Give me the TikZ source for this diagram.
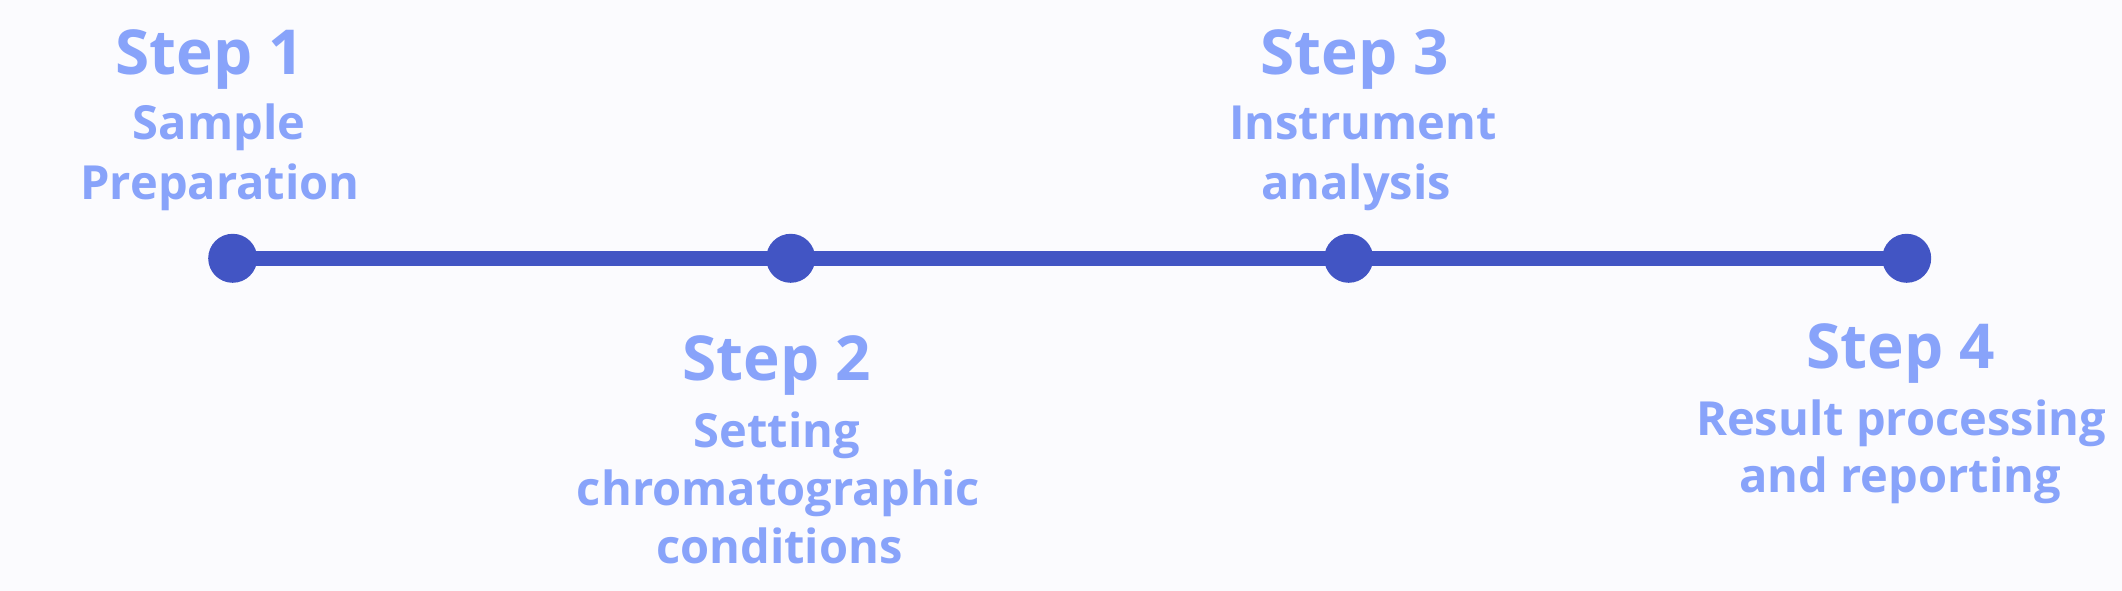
\documentclass[tikz,border=0pt]{standalone}
\usepackage{fontspec}
\setmainfont{Open Sans}
\definecolor{bgc}{RGB}{251,251,254}
\definecolor{linec}{RGB}{66,85,196}
\definecolor{textc}{RGB}{136,163,250}
\tikzset{
  dot/.style={circle,fill=linec,inner sep=0pt,minimum size=49bp},
  title/.style={anchor=base,inner sep=0pt,text=textc,font=\fontsize{62bp}{62bp}\selectfont\bfseries},
  sub/.style={anchor=base,inner sep=0pt,text=textc,font=\fontsize{47bp}{47bp}\selectfont\bfseries},
  track/.style={draw=linec,line width=14.7bp}
}
\begin{document}
\begin{tikzpicture}[x=1bp,y=-1bp]
\path[fill=bgc,use as bounding box] (0,0) rectangle (2122,591);
\coordinate (p1) at (232.7,258.3);
\coordinate (p4) at (1906.7,258.3);
\draw[track] (p1) -- (p4);
\node[dot] (c1) at (232.7,258.3) {};
\node[dot] (c2) at (790.7,258.3) {};
\node[dot] (c3) at (1348.7,258.3) {};
\node[dot] (c4) at (1906.7,258.3) {};
% Step 1
\node[title] (s1t) at (210,75) {Step 1};
\node[sub] (s1a) at (219,140) {Sample};
\node[sub] (s1b) at (220,200) {Preparation};
% Step 2
\node[title] (s2t) at (777,380) {Step 2};
\node[sub] (s2a) at (777,447) {Setting};
\node[sub] (s2b) at (778.5,505) {chromatographic};
\node[sub] (s2c) at (779.5,563) {conditions};
% Step 3
\node[title] (s3t) at (1355,75) {Step 3};
\node[sub] (s3a) at (1363,140) {Instrument};
\node[sub] (s3b) at (1356,200) {analysis};
% Step 4
\node[title] (s4t) at (1901,368) {Step 4};
\node[sub] (s4a) at (1901,435) {Result processing};
\node[sub] (s4b) at (1900,492) {and reporting};
\end{tikzpicture}
\end{document}
